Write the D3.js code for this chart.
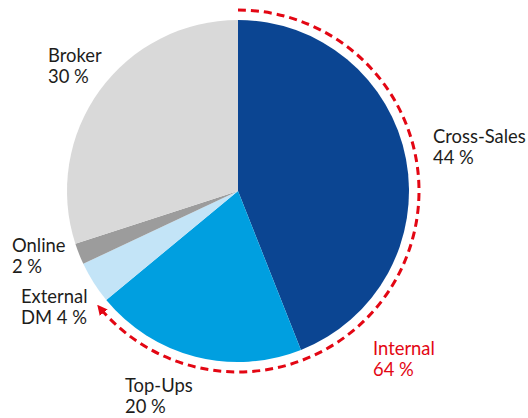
<!DOCTYPE html>
<html><head><meta charset="utf-8">
<script src="https://cdn.jsdelivr.net/npm/d3@7"></script>
<style>body{margin:0;background:#fff}svg{display:block}text{font-family:Lato,"Noto Sans",sans-serif;font-size:18.4px}</style>
</head><body><svg id="c" width="528" height="418"></svg>
<script>
const categories = ["Cross-Sales","Top-Ups","External DM","Online","Broker"];
const values = [44, 20, 4, 2, 30];
const colors = ["#0b4592","#009fe0","#c3e4f7","#9c9c9c","#d9d9d9"];
const labelLines = [["Cross-Sales","44 %"],["Top-Ups","20 %"],["External","DM 4 %"],["Online","2 %"],["Broker","30 %"]];
const internalLabel = ["Internal","64 %"];
const internalShare = 64;

const svg = d3.select("#c");
const cx = 238, cy = 191, R = 171, Rd = 181;
const g = svg.append("g").attr("transform",`translate(${cx},${cy})`);
const pie = d3.pie().sort(null).value(d=>d)(values);
const arc = d3.arc().innerRadius(0).outerRadius(R);
g.selectAll("path.s").data(pie).join("path").attr("class","s")
 .attr("d",arc).attr("fill",(d,i)=>colors[i]);

svg.append("defs").append("marker").attr("id","ah")
 .attr("viewBox","0 0 10 10").attr("refX",8).attr("refY",5)
 .attr("markerWidth",3.4).attr("markerHeight",3.4).attr("orient","auto")
 .attr("markerUnits","strokeWidth")
 .append("path").attr("d","M0,0 L10,5 L0,10 z").attr("fill","#e30613");
const a1 = 2*Math.PI*internalShare/100;
const p = d3.path();
p.arc(0,0,Rd,-Math.PI/2,-Math.PI/2+a1,false);
g.append("path").attr("d",p.toString()).attr("fill","none")
 .attr("stroke","#e30613").attr("stroke-width",3).attr("stroke-dasharray","8,5")
 .attr("marker-end","url(#ah)");

const labelPos = [[433,143],[125,392],[21,303],[12,252],[48,62]];
const lh = 21;
labelLines.forEach((ls,i)=>{
  const t = svg.append("text").attr("x",labelPos[i][0]).attr("y",labelPos[i][1]).attr("fill","#1d1d1b");
  ls.forEach((s,j)=>t.append("tspan").attr("x",labelPos[i][0]).attr("dy",j?lh:0).text(s));
});
const ti = svg.append("text").attr("x",373).attr("y",355).attr("fill","#e30613");
internalLabel.forEach((s,j)=>ti.append("tspan").attr("x",373).attr("dy",j?lh:0).text(s));
</script></body></html>
